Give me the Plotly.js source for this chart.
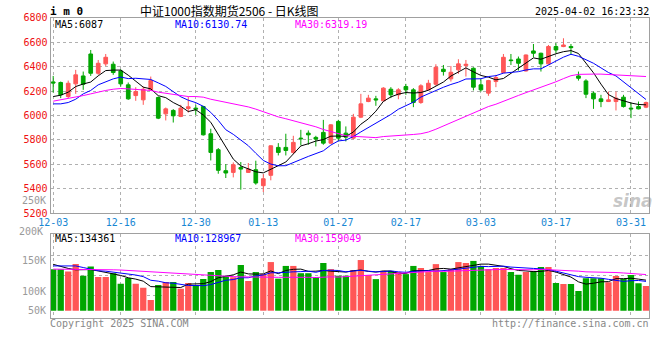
<!DOCTYPE html>
<html>
<head>
<meta charset="utf-8">
<script src="https://cdn.plot.ly/plotly-3.0.1.min.js"></script>
<style>
html,body{margin:0;padding:0;background:#fff;}
#chart{width:660px;height:360px;}
</style>
</head>
<body>
<div id="chart"></div>
<script>
// ---- data ----
const dates = ["2024-12-03","2024-12-04","2024-12-05","2024-12-06","2024-12-09","2024-12-10","2024-12-11","2024-12-12","2024-12-13","2024-12-16",
"2024-12-17","2024-12-18","2024-12-19","2024-12-20","2024-12-23","2024-12-24","2024-12-25","2024-12-26","2024-12-27","2024-12-30",
"2024-12-31","2025-01-02","2025-01-03","2025-01-06","2025-01-07","2025-01-08","2025-01-09","2025-01-10","2025-01-13","2025-01-14",
"2025-01-15","2025-01-16","2025-01-17","2025-01-20","2025-01-21","2025-01-22","2025-01-23","2025-01-24","2025-01-27","2025-02-05",
"2025-02-06","2025-02-07","2025-02-10","2025-02-11","2025-02-12","2025-02-13","2025-02-14","2025-02-17","2025-02-18","2025-02-19",
"2025-02-20","2025-02-21","2025-02-24","2025-02-25","2025-02-26","2025-02-27","2025-02-28","2025-03-03","2025-03-04","2025-03-05",
"2025-03-06","2025-03-07","2025-03-10","2025-03-11","2025-03-12","2025-03-13","2025-03-14","2025-03-17","2025-03-18","2025-03-19",
"2025-03-20","2025-03-21","2025-03-24","2025-03-25","2025-03-26","2025-03-27","2025-03-28","2025-03-31","2025-04-01","2025-04-02"];

const openP = [6275,6270,6155,6259,6324,6504,6346,6423,6420,6365,
6251,6163,6128,6210,6147,6013,6041,5992,6057,6060,
6073,5850,5719,5547,5533,5573,5533,5555,5424,5509,
5738,5738,5697,5814,5855,5820,5861,5773,5951,5855,
5814,5986,6114,6136,6120,6215,6169,6237,6210,6106,
6210,6256,6379,6300,6374,6409,6387,6251,6183,6278,
6352,6455,6463,6365,6529,6510,6423,6565,6565,6565,
6324,6283,6183,6136,6114,6114,6150,6060,6073,6068];

const highP = [6324,6278,6286,6374,6360,6537,6455,6504,6442,6379,
6270,6232,6237,6319,6155,6065,6052,6087,6155,6087,
6079,5891,5733,5601,5615,5618,5610,5629,5519,5755,
5773,5850,5833,5882,5877,5833,5964,5928,5964,5910,
6013,6177,6169,6161,6232,6232,6224,6259,6224,6256,
6292,6420,6414,6406,6461,6455,6395,6297,6292,6333,
6504,6504,6483,6500,6586,6515,6578,6592,6633,6586,
6360,6297,6196,6169,6196,6196,6169,6106,6114,6114];

const lowP = [6188,6142,6142,6177,6210,6324,6333,6406,6333,6237,
6128,6120,6087,6205,5970,5959,5942,5986,6024,6005,
5835,5631,5522,5487,5492,5391,5528,5432,5372,5468,
5672,5672,5683,5754,5760,5746,5760,5768,5787,5787,
5806,5978,6109,6079,6117,6142,6133,6169,6068,6095,
6205,6243,6327,6278,6341,6319,6205,6196,6161,6232,
6346,6414,6368,6360,6477,6360,6418,6510,6560,6496,
6286,6142,6054,6068,6110,6041,6065,5978,6050,6060];

const closeP = [6266,6169,6264,6333,6256,6346,6428,6477,6352,6259,
6136,6196,6215,6286,5978,6054,5997,6060,6071,6052,
5841,5697,5550,5528,5596,5560,5560,5446,5481,5751,
5697,5713,5779,5809,5841,5806,5773,5923,5814,5822,
5986,6095,6142,6128,6224,6169,6210,6210,6106,6243,
6264,6395,6360,6354,6423,6420,6232,6210,6286,6311,
6477,6450,6428,6496,6510,6423,6565,6537,6578,6556,
6305,6174,6136,6114,6128,6142,6073,6054,6054,6106];

const ma5 = [6155,6166,6191,6237,6258,6274,6325,6368,6372,6372,
6330,6284,6232,6218,6162,6146,6106,6075,6032,6047,
6004,5944,5842,5734,5642,5586,5559,5538,5529,5560,
5587,5618,5684,5750,5768,5790,5802,5830,5831,5828,
5864,5928,5972,6035,6115,6152,6175,6188,6184,6188,
6207,6244,6274,6323,6359,6390,6358,6328,6314,6292,
6303,6347,6390,6432,6472,6461,6484,6506,6523,6532,
6508,6430,6350,6257,6171,6139,6119,6102,6090,6087];

const ma10 = [6095,6095,6106,6133,6177,6205,6251,6278,6300,6315,
6302,6305,6300,6295,6267,6238,6195,6153,6125,6105,
6075,6025,5959,5883,5845,5795,5752,5690,5631,5601,
5587,5588,5611,5639,5664,5688,5710,5757,5791,5798,
5827,5865,5901,5933,5971,6008,6051,6080,6109,6151,
6179,6209,6231,6254,6273,6299,6301,6301,6319,6326,
6347,6352,6359,6373,6382,6382,6416,6448,6478,6502,
6485,6457,6428,6390,6352,6324,6274,6226,6174,6130.74];

const ma30 = [6117,6128,6136,6150,6163,6177,6193,6205,6215,6221,
6218,6215,6210,6205,6191,6183,6169,6161,6155,6155,
6150,6133,6120,6112,6100,6086,6070,6052,6030,6007,
5988,5973,5957,5939,5925,5907,5885,5867,5849,5834,
5829,5826,5824,5818,5827,5830,5837,5842,5844,5850,
5864,5887,5914,5942,5969,5998,6021,6046,6073,6092,
6118,6142,6164,6187,6209,6229,6256,6276,6302,6326,
6337,6340,6339,6339,6336,6335,6330,6325,6323,6319.19];

const volume = [182000,182000,172000,205000,154000,194000,148000,148000,165000,119000,
144000,119000,101000,47000,113000,126000,126000,97000,122000,113000,
139000,170000,179000,154000,147000,201000,131000,170000,161000,214000,
141000,197000,197000,165000,165000,148000,210000,183000,154000,154000,
179000,223000,157000,139000,175000,175000,170000,161000,197000,188000,
170000,205000,170000,183000,214000,210000,219000,197000,183000,188000,
188000,170000,158000,170000,175000,192000,192000,122000,117000,117000,
87000,143000,143000,143000,125000,153000,139000,157000,121000,109000];

const vma5 = [204000,194000,186000,180000,179000,181000,175000,170000,162000,155000,
145000,139000,130000,106000,105000,101000,103000,102000,117000,117000,
119000,128000,145000,151000,158000,170000,162000,161000,162000,175000,
163000,177000,182000,183000,173000,174000,177000,174000,172000,170000,
176000,179000,173000,170000,175000,174000,163000,164000,176000,178000,
177000,184000,186000,183000,188000,196000,199000,205000,205000,199000,
195000,185000,177000,175000,172000,173000,177000,170000,160000,148000,
127000,117000,121000,127000,128000,141000,141000,143000,139000,134361];

const vma10 = [197000,197000,197000,197000,190000,182000,176000,174000,170000,167000,
163000,157000,150000,134000,130000,123000,121000,116000,111000,111000,
110000,115000,123000,134000,137000,145000,145000,153000,157000,167000,
167000,170000,171000,172000,174000,169000,177000,178000,177000,171000,
175000,178000,174000,171000,172000,175000,171000,169000,173000,176000,
176000,174000,175000,179000,183000,187000,192000,195000,194000,194000,
196000,192000,191000,190000,186000,184000,181000,174000,167000,160000,
150000,147000,146000,143000,138000,134000,129000,132000,133000,128967];

const vma30 = [183000,183000,183000,183000,183000,182000,182000,181000,180000,179000,
177000,175000,172000,169000,167000,165000,163000,161000,160000,158000,
157000,155000,154000,152000,150000,149000,148000,147000,147000,148000,
147000,147000,148000,147000,147000,146000,148000,149000,148000,150000,
151000,154000,156000,159000,161000,163000,164000,166000,169000,171000,
173000,174000,173000,174000,177000,177000,180000,181000,181000,181000,
182000,181000,180000,180000,180000,182000,181000,179000,178000,177000,
174000,171000,171000,171000,169000,168000,166000,164000,162000,159049];

const tickDates = ["2024-12-03","2024-12-16","2024-12-30","2025-01-13","2025-01-27","2025-02-17","2025-03-03","2025-03-17","2025-03-31"];
const tickLabels = ["12-03","12-16","12-30","01-13","01-27","02-17","03-03","03-17","03-31"];
const priceTicks = [5200,5400,5600,5800,6000,6200,6400,6600,6800];
const volLabels = ["250K","200K","150K","100K","50K"];

// ---- style ----
const W = 660, H = 360;
const px = x => x / W;
const py = y => 1 - y / H;
const RED = '#ff5656', GREEN = '#00a600';
const MONO = 'DejaVu Sans Mono, Liberation Mono, monospace';
const GRID = '#b0b0b0', FRAME = '#a0a0a0';

const volColors = closeP.map((c, i) => c >= openP[i] ? RED : GREEN);

const traces = [
  {type:'candlestick', x:dates, open:openP, high:highP, low:lowP, close:closeP,
   xaxis:'x', yaxis:'y', whiskerwidth:0,
   increasing:{line:{color:RED,width:1}, fillcolor:RED},
   decreasing:{line:{color:GREEN,width:1}, fillcolor:GREEN},
   hoverinfo:'skip'},
  {type:'scatter', mode:'lines', x:dates, y:ma5, xaxis:'x', yaxis:'y', line:{color:'#000000',width:1}, hoverinfo:'skip'},
  {type:'scatter', mode:'lines', x:dates, y:ma10, xaxis:'x', yaxis:'y', line:{color:'#0000ff',width:1}, hoverinfo:'skip'},
  {type:'scatter', mode:'lines', x:dates, y:ma30, xaxis:'x', yaxis:'y', line:{color:'#ff00ff',width:1}, hoverinfo:'skip'},
  {type:'bar', x:dates, y:volume, xaxis:'x2', yaxis:'y2', marker:{color:volColors, line:{width:0}}, hoverinfo:'skip'},
  {type:'scatter', mode:'lines', x:dates, y:vma5, xaxis:'x2', yaxis:'y2', line:{color:'#000000',width:1}, hoverinfo:'skip'},
  {type:'scatter', mode:'lines', x:dates, y:vma10, xaxis:'x2', yaxis:'y2', line:{color:'#0000ff',width:1}, hoverinfo:'skip'},
  {type:'scatter', mode:'lines', x:dates, y:vma30, xaxis:'x2', yaxis:'y2', line:{color:'#ff00ff',width:1}, hoverinfo:'skip'}
];

const xRange = [-0.36, 79.44];
const xCommon = {
  type:'category', range:xRange, tickmode:'array', tickvals:tickDates, ticktext:tickLabels,
  showgrid:true, gridcolor:GRID, griddash:'dot', gridwidth:1,
  showline:true, linecolor:FRAME, linewidth:1, mirror:true, ticks:'', zeroline:false, fixedrange:true,
  rangeslider:{visible:false}
};

function ann(text, x, y, anchor, color, size, extra) {
  return Object.assign({text:text, xref:'paper', yref:'paper', x:px(x), y:py(y),
    xanchor:anchor, yanchor:'middle', showarrow:false, borderpad:0,
    font:{family:MONO, size:size, color:color}}, extra || {});
}

const annotations = [
  ann('<b>i m 0</b>', 49, 11, 'left', '#000', 11),
  ann('中证1000指数期货2506 - 日K线图', 139, 10, 'left', '#000', 12, {font:{family:'Noto Sans CJK SC, sans-serif', size:12, color:'#000'}}),
  ann('2025-04-02 16:23:32', 650, 11, 'right', '#000', 10),
  ann('MA5:' + ma5[ma5.length-1], 54, 25, 'left', '#000', 10),
  ann('MA10:' + ma10[ma10.length-1].toFixed(2), 174, 25, 'left', '#0000ff', 10),
  ann('MA30:' + ma30[ma30.length-1].toFixed(2), 294, 25, 'left', '#ff00ff', 10),
  ann('MA5:' + vma5[vma5.length-1], 54, 238.5, 'left', '#000', 10),
  ann('MA10:' + vma10[vma10.length-1], 174, 238.5, 'left', '#0000ff', 10),
  ann('MA30:' + vma30[vma30.length-1], 294, 238.5, 'left', '#ff00ff', 10),
  ann(volLabels[0], 47, 200.5, 'right', '#9a9a9a', 10),
  ann(volLabels[1], 44, 231, 'right', '#9a9a9a', 10),
  ann(volLabels[2], 47, 260.5, 'right', '#9a9a9a', 10),
  ann(volLabels[3], 47, 291, 'right', '#9a9a9a', 10),
  ann(volLabels[4], 47, 310.5, 'right', '#9a9a9a', 10),
  ann('Copyright 2025 SINA.COM', 49, 323, 'left', '#888', 10),
  ann('http://finance.sina.com.cn', 650, 323, 'right', '#888', 10),
  ann('<b><i>sina</i></b>', 633, 201, 'center', 'rgba(150,150,150,0.55)', 17, {font:{family:'DejaVu Sans, sans-serif', size:17, color:'rgba(150,150,150,0.55)'}})
];

const layout = {
  width:W, height:H, margin:{l:0,r:0,t:0,b:0},
  paper_bgcolor:'#ffffff', plot_bgcolor:'#ffffff',
  showlegend:false, bargap:0.16, hovermode:false,
  xaxis:Object.assign({}, xCommon, {domain:[px(50.5), px(649.3)], anchor:'y',
    tickfont:{family:MONO, size:10, color:'#1787d3'}}),
  yaxis:{domain:[py(213), py(17.9)], range:[5200,6800], anchor:'x',
    tickmode:'array', tickvals:priceTicks, ticktext:priceTicks.map(String),
    tickfont:{family:MONO, size:10, color:'#ee1111'},
    showgrid:true, gridcolor:GRID, griddash:'dot', gridwidth:1,
    showline:true, linecolor:FRAME, linewidth:1, mirror:true, ticks:'', zeroline:false, fixedrange:true},
  xaxis2:Object.assign({}, xCommon, {domain:[px(50.5), px(649.3)], anchor:'y2', showticklabels:false}),
  yaxis2:{domain:[py(318), py(234.3)], range:[-32100, 336200], anchor:'x2',
    tickmode:'array', tickvals:[69000,155000,242000], showticklabels:false,
    showgrid:true, gridcolor:GRID, griddash:'dot', gridwidth:1,
    showline:true, linecolor:FRAME, linewidth:1, mirror:true, ticks:'', zeroline:false, fixedrange:true},
  annotations:annotations
};

Plotly.newPlot('chart', traces, layout, {staticPlot:true, displayModeBar:false});
</script>
</body>
</html>
